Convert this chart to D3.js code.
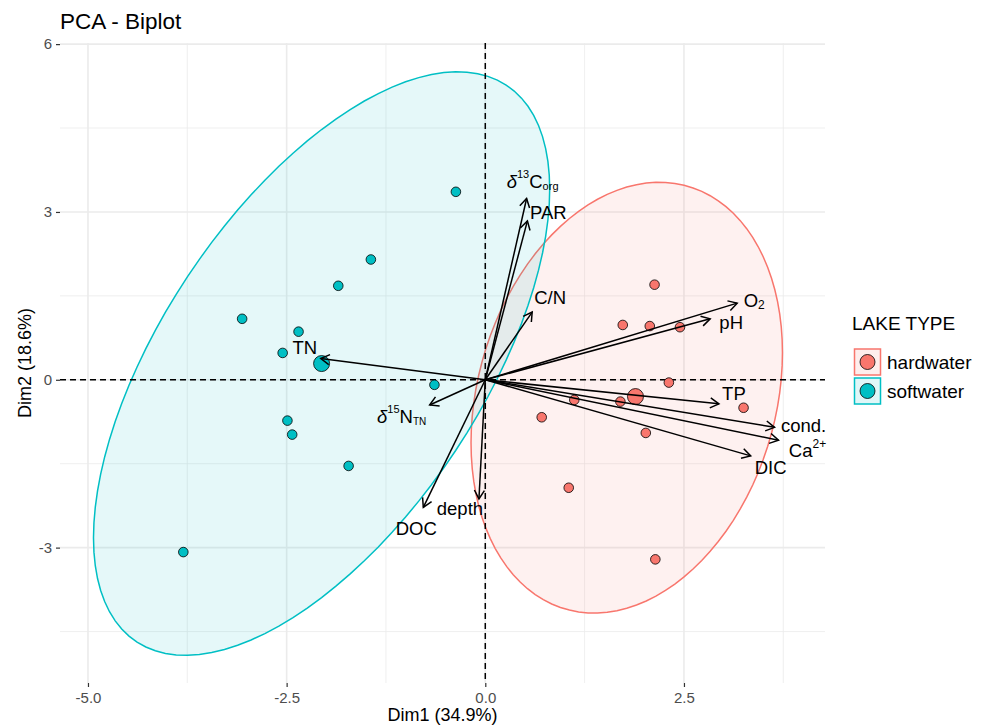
<!DOCTYPE html>
<html>
<head>
<meta charset="utf-8">
<script src="https://cdn.jsdelivr.net/npm/d3@7"></script>
<style>
  body { margin: 0; background: #fff; }
  svg text { font-family: "Liberation Sans", Arial, Helvetica, sans-serif; }
</style>
</head>
<body>
<div id="chart"></div>
<script>
// individuals (lakes)
const hardX = [2.13, 1.73, 2.07, 2.45, 2.31, 1.12, 1.70, 0.71, 3.25, 2.02, 1.05, 2.14];
const hardY = [1.70, 0.98, 0.96, 0.94, -0.05, -0.36, -0.39, -0.67, -0.50, -0.95, -1.93, -3.21];
const softX = [-0.37, -1.44, -1.85, -3.06, -2.35, -2.55, -0.64, -2.49, -2.43, -1.72, -3.80];
const softY = [3.36, 2.15, 1.68, 1.09, 0.86, 0.48, -0.09, -0.73, -0.98, -1.54, -3.08];

// group means
const groups = ["hardwater", "softwater"];
const meanX = [1.89, -2.06];
const meanY = [-0.30, 0.29];

// ellipse: centre and scaled covariance (xx, yy, xy)
const ellCX = [1.78, -2.06];
const ellCY = [-0.32, 0.29];
const ellXX = [3.84, 8.24];
const ellYY = [14.82, 27.2];
const ellXY = [1.58, 8.94];

// variables
const varNames = ["d13C", "PAR", "C/N", "O2", "pH", "TP", "cond.", "Ca", "DIC", "TN", "d15N", "DOC", "depth"];
const varX = [0.52, 0.53, 0.59, 3.17, 2.83, 2.94, 3.64, 3.69, 3.34, -2.07, -0.70, -0.78, -0.08];
const varY = [3.24, 2.84, 1.21, 1.37, 1.09, -0.43, -0.85, -1.08, -1.36, 0.38, -0.45, -2.28, -2.13];

const xTicks = [-5.0, -2.5, 0.0, 2.5];
const yTicks = [-3, 0, 3, 6];
const xMinor = [-3.75, -1.25, 1.25, 3.75];
const yMinor = [-4.5, -1.5, 1.5, 4.5];

const colors = {hardwater: "#F8766D", softwater: "#00BFC4"};

// label offsets from arrow tip (px)
const labelOff = {
  "d13C": [6, -18], "PAR": [21, -8], "C/N": [18, -15], "O2": [17, -3], "pH": [21, 4],
  "TP": [15, -10], "cond.": [29, -2], "Ca": [29, 10], "DIC": [20, 12],
  "TN": [-16, -11], "d15N": [-28, 11], "DOC": [-7, 21], "depth": [-19, 10]
};

const width = 987, height = 727;
const panel = {left: 60, right: 825, top: 43, bottom: 683};

const svg = d3.select("#chart").append("svg")
  .attr("width", width).attr("height", height);

const x = d3.scaleLinear().domain([-5.352, 4.275]).range([panel.left, panel.right]);
const y = d3.scaleLinear().domain([-5.42, 6.02]).range([panel.bottom, panel.top]);

// grid
const grid = svg.append("g");
grid.selectAll(".xmin").data(xMinor).enter().append("line")
  .attr("x1", d => x(d)).attr("x2", d => x(d)).attr("y1", panel.top).attr("y2", panel.bottom)
  .attr("stroke", "#EBEBEB").attr("stroke-width", 0.8);
grid.selectAll(".ymin").data(yMinor).enter().append("line")
  .attr("y1", d => y(d)).attr("y2", d => y(d)).attr("x1", panel.left).attr("x2", panel.right)
  .attr("stroke", "#EBEBEB").attr("stroke-width", 0.8);
grid.selectAll(".xmaj").data(xTicks).enter().append("line")
  .attr("x1", d => x(d)).attr("x2", d => x(d)).attr("y1", panel.top).attr("y2", panel.bottom)
  .attr("stroke", "#EBEBEB").attr("stroke-width", 1.6);
grid.selectAll(".ymaj").data(yTicks).enter().append("line")
  .attr("y1", d => y(d)).attr("y2", d => y(d)).attr("x1", panel.left).attr("x2", panel.right)
  .attr("stroke", "#EBEBEB").attr("stroke-width", 1.6);

// axes (hyphen minus like R)
const hy = f => d => f(d).replace("−", "-");
const xAxis = svg.append("g").attr("transform", `translate(0,${panel.bottom})`)
  .call(d3.axisBottom(x).tickValues(xTicks).tickFormat(hy(d3.format(".1f"))).tickSize(4).tickPadding(5));
const yAxis = svg.append("g").attr("transform", `translate(${panel.left},0)`)
  .call(d3.axisLeft(y).tickValues(yTicks).tickFormat(hy(d3.format("d"))).tickSize(4).tickPadding(4));
[xAxis, yAxis].forEach(a => {
  a.select(".domain").remove();
  a.selectAll(".tick line").attr("stroke", "#333").attr("stroke-width", 1.2);
  a.selectAll(".tick text").attr("fill", "#4D4D4D").style("font-size", "15px")
    .style("font-family", "Liberation Sans, Arial, sans-serif");
});

// ellipses
function ellipsePts(i) {
  const a = Math.sqrt(ellXX[i]);
  const b = ellXY[i] / a;
  const c = Math.sqrt(ellYY[i] - b * b);
  return d3.range(0, 100).map(k => {
    const t = k / 100 * 2 * Math.PI;
    return [ellCX[i] + a * Math.cos(t), ellCY[i] + b * Math.cos(t) + c * Math.sin(t)];
  });
}
const ellLine = d3.line().x(d => x(d[0])).y(d => y(d[1])).curve(d3.curveLinearClosed);
groups.forEach((g, i) => {
  svg.append("path").attr("d", ellLine(ellipsePts(i)))
    .attr("fill", colors[g]).attr("fill-opacity", 0.1)
    .attr("stroke", colors[g]).attr("stroke-width", 1.5);
});

// reference lines
svg.append("line").attr("x1", panel.left).attr("x2", panel.right).attr("y1", y(0)).attr("y2", y(0))
  .attr("stroke", "#000").attr("stroke-width", 1.5).attr("stroke-dasharray", "6,4");
svg.append("line").attr("y1", panel.top).attr("y2", panel.bottom).attr("x1", x(0)).attr("x2", x(0))
  .attr("stroke", "#000").attr("stroke-width", 1.5).attr("stroke-dasharray", "6,4");

// points
function drawPoints(xs, ys, col, r) {
  svg.append("g").selectAll("circle").data(xs).enter().append("circle")
    .attr("cx", d => x(d)).attr("cy", (d, i) => y(ys[i])).attr("r", r)
    .attr("fill", col).attr("stroke", "#000").attr("stroke-width", 0.8);
}
drawPoints(hardX, hardY, colors.hardwater, 4.8);
drawPoints(softX, softY, colors.softwater, 4.8);
groups.forEach((g, i) => {
  svg.append("circle").attr("cx", x(meanX[i])).attr("cy", y(meanY[i])).attr("r", 8)
    .attr("fill", colors[g]).attr("stroke", "#000").attr("stroke-width", 0.8);
});

// variable arrows
const arrows = svg.append("g");
varNames.forEach((n, i) => {
  const x0 = x(0), y0 = y(0), x1 = x(varX[i]), y1 = y(varY[i]);
  const ang = Math.atan2(y1 - y0, x1 - x0);
  const L = 10, w = Math.PI / 6;
  arrows.append("line").attr("x1", x0).attr("y1", y0).attr("x2", x1).attr("y2", y1)
    .attr("stroke", "#000").attr("stroke-width", 1.5);
  arrows.append("path")
    .attr("d", `M${x1 - L * Math.cos(ang - w)},${y1 - L * Math.sin(ang - w)}L${x1},${y1}L${x1 - L * Math.cos(ang + w)},${y1 - L * Math.sin(ang + w)}`)
    .attr("fill", "none").attr("stroke", "#000").attr("stroke-width", 1.5);

  const t = svg.append("text")
    .attr("x", x1 + labelOff[n][0]).attr("y", y1 + labelOff[n][1])
    .attr("text-anchor", "middle").attr("dominant-baseline", "central")
    .style("font-size", "18.5px").attr("fill", "#000");
  if (n === "d13C") {
    t.append("tspan").text("δ").style("font-style", "italic");
    t.append("tspan").text("13").style("font-size", "11px").attr("dy", -7);
    t.append("tspan").text("C").attr("dy", 7);
    t.append("tspan").text("org").style("font-size", "11px").attr("dy", 5);
  } else if (n === "d15N") {
    t.append("tspan").text("δ").style("font-style", "italic");
    t.append("tspan").text("15").style("font-size", "11px").attr("dy", -7);
    t.append("tspan").text("N").attr("dy", 7);
    t.append("tspan").text("TN").style("font-size", "10px").attr("dy", 5);
  } else if (n === "O2") {
    t.append("tspan").text("O");
    t.append("tspan").text("2").style("font-size", "12px").attr("dy", 5);
  } else if (n === "Ca") {
    t.append("tspan").text("Ca");
    t.append("tspan").text("2+").style("font-size", "12px").attr("dy", -6);
  } else {
    t.text(n);
  }
});

// titles
svg.append("text").attr("x", 60).attr("y", 29).text("PCA - Biplot")
  .style("font-size", "22.5px").attr("fill", "#000");
svg.append("text").attr("x", (panel.left + panel.right) / 2).attr("y", 721)
  .attr("text-anchor", "middle").text("Dim1 (34.9%)").style("font-size", "18px");
svg.append("text").attr("transform", `translate(31,${(panel.top + panel.bottom) / 2}) rotate(-90)`)
  .attr("text-anchor", "middle").text("Dim2 (18.6%)").style("font-size", "18px");

// legend
const leg = svg.append("g").attr("transform", "translate(852,0)");
leg.append("text").attr("x", 0).attr("y", 330).text("LAKE TYPE").style("font-size", "19px");
groups.forEach((g, i) => {
  const yy = 349 + i * 29;
  leg.append("rect").attr("x", 2.5).attr("y", yy).attr("width", 26).attr("height", 26)
    .attr("fill", colors[g]).attr("fill-opacity", 0.12)
    .attr("stroke", colors[g]).attr("stroke-width", 1.5);
  leg.append("circle").attr("cx", 15.5).attr("cy", yy + 13).attr("r", 7.5)
    .attr("fill", colors[g]).attr("stroke", "#000").attr("stroke-width", 0.8);
  leg.append("text").attr("x", 35).attr("y", yy + 13).attr("dominant-baseline", "central")
    .text(g).style("font-size", "19px");
});
</script>
</body>
</html>
